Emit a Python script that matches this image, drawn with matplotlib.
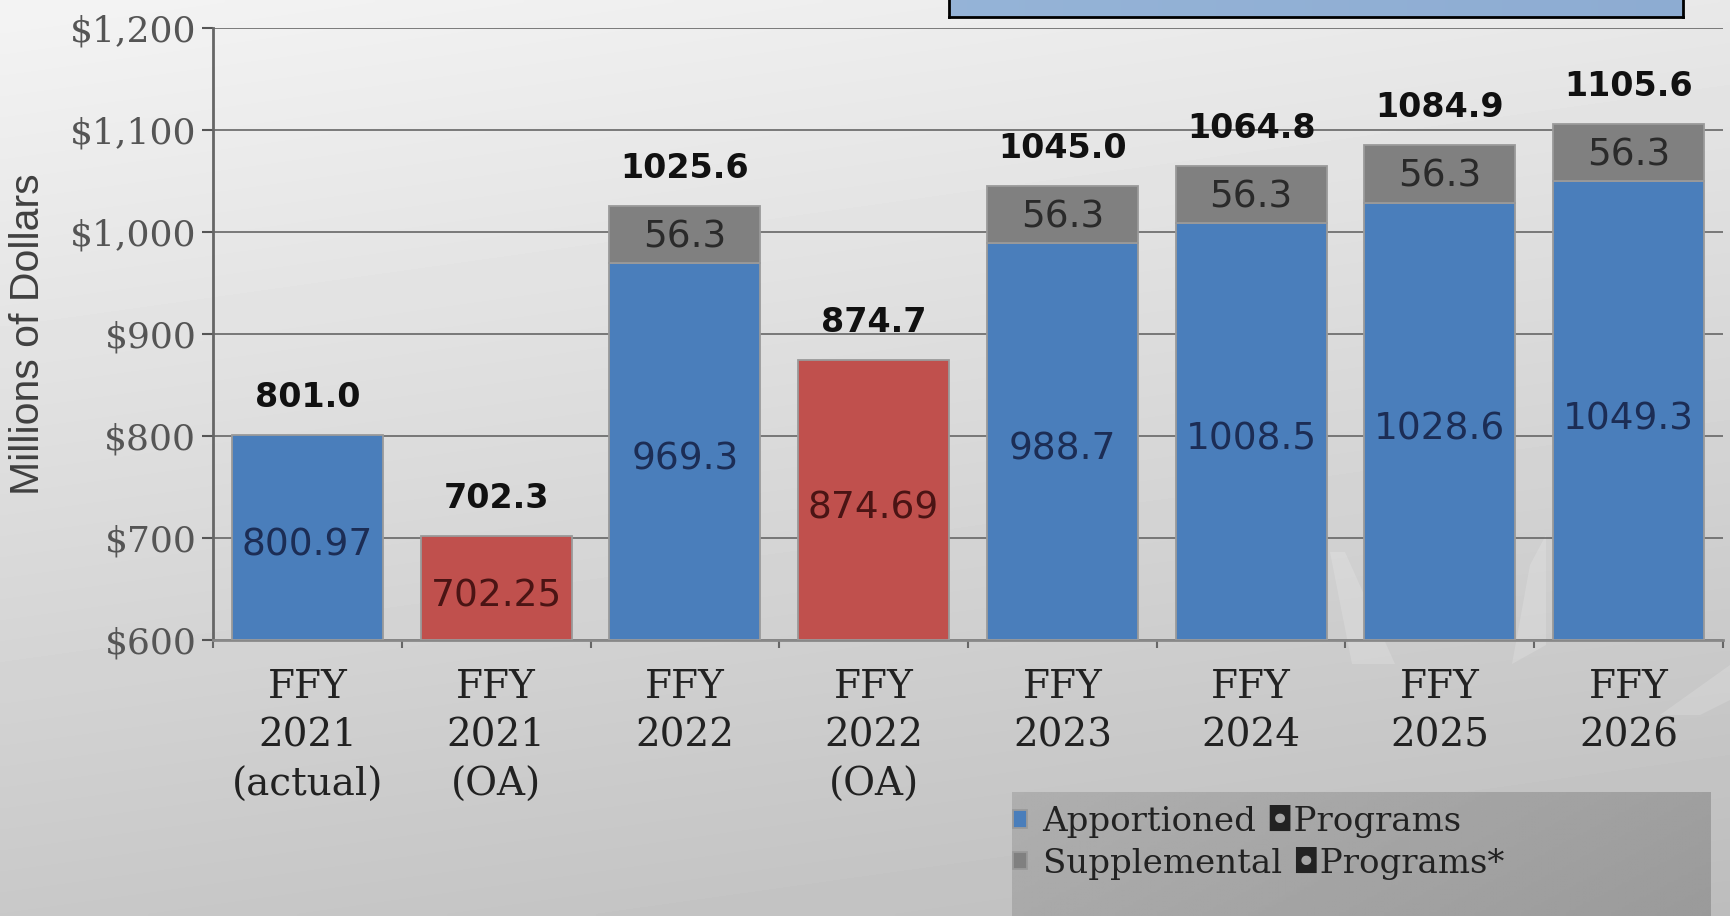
import numpy as np
import matplotlib
matplotlib.use('Agg')
import matplotlib.pyplot as plt
from matplotlib.patches import Polygon

# ---------------- data ----------------
categories = ['FFY\n2021\n(actual)', 'FFY\n2021\n(OA)', 'FFY\n2022', 'FFY\n2022\n(OA)',
              'FFY\n2023', 'FFY\n2024', 'FFY\n2025', 'FFY\n2026']
apportioned_idx = [0, 2, 4, 5, 6, 7]
apportioned = [800.97, 969.3, 988.7, 1008.5, 1028.6, 1049.3]
apportioned_labels = ['800.97', '969.3', '988.7', '1008.5', '1028.6', '1049.3']
oa_idx = [1, 3]
oa_values = [702.25, 874.69]
oa_labels = ['702.25', '874.69']
supplemental_idx = [2, 4, 5, 6, 7]
supplemental = [56.3, 56.3, 56.3, 56.3, 56.3]
supplemental_labels = ['56.3', '56.3', '56.3', '56.3', '56.3']
totals = [801.0, 702.3, 1025.6, 874.7, 1045.0, 1064.8, 1084.9, 1105.6]
total_labels = ['801.0', '702.3', '1025.6', '874.7', '1045.0', '1064.8', '1084.9', '1105.6']
ytick_values = [600, 700, 800, 900, 1000, 1100, 1200]
ytick_labels = ['$600', '$700', '$800', '$900', '$1,000', '$1,100', '$1,200']
legend_labels = ['Apportioned \u25d8Programs', 'Supplemental \u25d8Programs*']
y_label = 'Millions of Dollars'

# ---------------- style ----------------
W, H = 1730, 916
BLUE = '#4a7ebb'
RED = '#c0504d'
GRAY = '#808080'
EDGE = '#9a9a9a'
SERIF = ['DejaVu Serif', 'DejaVu Sans']

fig = plt.figure(figsize=(W / 100, H / 100), dpi=100)

# background gradient
bg = fig.add_axes([0, 0, 1, 1], zorder=-10)
yy, xx = np.mgrid[0:1:200j, 0:1:200j]
grad = 0.785 + 0.17 * yy - 0.045 * xx
bg.imshow(grad, extent=[0, W, 0, H], origin='lower', aspect='auto',
          cmap='gray', vmin=0, vmax=1, interpolation='bilinear')
# faint decorative facets of the slide template (lower right)
facets = [
    [(1330, 552), (1345, 552), (1395, 664), (1352, 664)],
    [(1530, 565), (1546, 535), (1546, 645), (1512, 664)],
    [(1660, 715), (1730, 665), (1730, 700), (1700, 715)],
]
for f in facets:
    bg.add_patch(Polygon([(x, H - y) for x, y in f], closed=True,
                         facecolor='white', edgecolor='none', alpha=0.16))
bg.set_xlim(0, W)
bg.set_ylim(0, H)
bg.axis('off')

# legend box (gradient)
lb = fig.add_axes([1012 / W, 0, (1710 - 1012) / W, (916 - 792) / H], zorder=-5)
ly, lx = np.mgrid[0:1:50j, 0:1:200j]
lgrad = 0.665 - 0.06 * lx + 0.02 * ly
lb.imshow(lgrad, extent=[0, 1, 0, 1], origin='lower', aspect='auto',
          cmap='gray', vmin=0, vmax=1, interpolation='bilinear')
lb.axis('off')

# title box (cut off at top)
tb = fig.add_axes([949 / W, 1 - 17 / H, (1683 - 949) / W, 17 / H + 0.01], zorder=5)
ty, tx = np.mgrid[0:1:10j, 0:1:200j]
tb_rgb = np.dstack([0.585 - 0.03 * tx, 0.705 - 0.03 * tx, 0.845 - 0.02 * tx])
tb.imshow(tb_rgb, extent=[0, 1, 0, 1], origin='lower', aspect='auto')
tb.set_xticks([])
tb.set_yticks([])
for s in tb.spines.values():
    s.set_color('black')
    s.set_linewidth(2)

# main axes
ax = fig.add_axes([213 / W, 1 - 640 / H, (1723 - 213) / W, (640 - 27.6) / H], zorder=1)
ax.patch.set_alpha(0)
ymin, ymax = ytick_values[0], ytick_values[-1]
ax.set_xlim(-0.5, len(categories) - 0.5)
ax.set_ylim(ymin, ymax)

width = 0.8
b_app = ax.bar(apportioned_idx, [v - ymin for v in apportioned], width, bottom=ymin,
               color=BLUE, edgecolor=EDGE, linewidth=1.3, zorder=3)
b_oa = ax.bar(oa_idx, [v - ymin for v in oa_values], width, bottom=ymin,
              color=RED, edgecolor=EDGE, linewidth=1.3, zorder=3)
sup_bottoms = [apportioned[apportioned_idx.index(i)] for i in supplemental_idx]
b_sup = ax.bar(supplemental_idx, supplemental, width, bottom=sup_bottoms,
               color=GRAY, edgecolor=EDGE, linewidth=1.3, zorder=3)

ax.bar_label(b_app, labels=apportioned_labels, label_type='center',
             fontsize=27, color='#1c2d55', family='DejaVu Sans', padding=-6)
ax.bar_label(b_oa, labels=oa_labels, label_type='center',
             fontsize=27, color='#4a1414', family='DejaVu Sans', padding=-6)
ax.bar_label(b_sup, labels=supplemental_labels, label_type='center',
             fontsize=27, color='#2a2a2a', family='DejaVu Sans', padding=-2)

for i, (t, lab) in enumerate(zip(totals, total_labels)):
    ax.annotate(lab, (i, t), xytext=(0, 27), textcoords='offset points',
                ha='center', va='center', fontsize=24, fontweight='bold',
                color='#111111', family='DejaVu Sans', zorder=4)

# grid
ax.set_yticks(ytick_values)
ax.set_yticklabels(ytick_labels, family=SERIF, fontsize=26, color='#555555')
ax.yaxis.grid(True, color='#666666', linewidth=1.2, zorder=0)
ax.set_axisbelow(True)

ax.set_xticks(range(len(categories)))
ax.set_xticklabels(categories, family=SERIF, fontsize=28, color='#222222',
                   linespacing=1.4)
ax.set_xticks(np.arange(-0.5, len(categories), 1.0), minor=True)
ax.tick_params(axis='x', which='major', length=0, pad=21)
ax.tick_params(axis='x', which='minor', length=6, width=1.5, color='#666666', direction='out')
ax.tick_params(axis='y', which='major', length=8, width=1.5, color='#555555', pad=4)

for side in ['top', 'right']:
    ax.spines[side].set_visible(False)
ax.spines['left'].set_color('#666666')
ax.spines['left'].set_linewidth(2)
ax.spines['bottom'].set_color('#888888')
ax.spines['bottom'].set_linewidth(2)

ax.set_ylabel(y_label, fontsize=29.5, color='#404040', family='Liberation Sans', va='center')
ax.yaxis.set_label_coords((27.6 - 213) / (1723 - 213), 0.5)

# legend
fig.legend([b_app, b_sup], legend_labels, loc='upper left',
           bbox_to_anchor=(1013 / W, 1 - 805 / H), frameon=False,
           prop={'family': SERIF, 'size': 24.5}, labelcolor='#222222',
           handlelength=0.42, handleheight=0.42, handletextpad=0.45,
           labelspacing=0.25, borderpad=0, borderaxespad=0)

fig.savefig('out.png', dpi=100)
